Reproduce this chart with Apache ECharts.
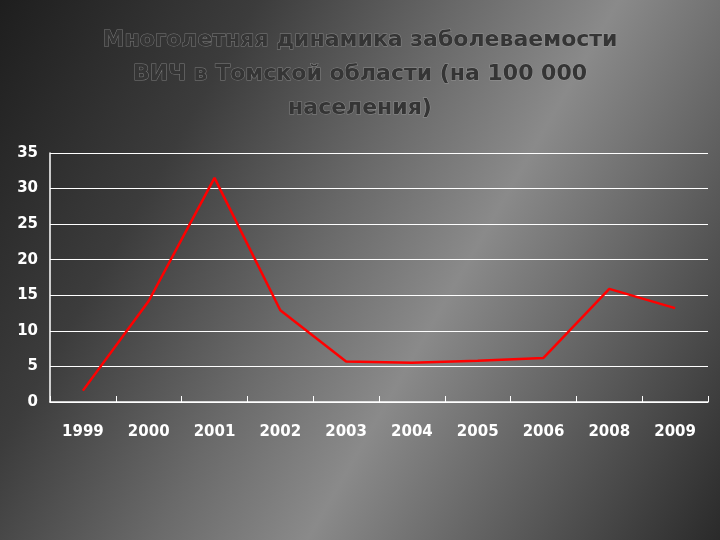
<!DOCTYPE html>
<html><head><meta charset="utf-8">
<script src="https://cdn.jsdelivr.net/npm/echarts@6/dist/echarts.min.js"></script>
<style>
html,body{margin:0;padding:0;}
body{width:720px;height:540px;background:linear-gradient(120deg,#1e1e1e 0%,#3c3c3c 25%,#6a6a6a 45%,#8a8a8a 60%,#5a5a5a 80%,#2a2a2a 100%);}
#chart{width:720px;height:540px;}
</style></head>
<body><div id="chart"></div>
<script>
var years = ['1999','2000','2001','2002','2003','2004','2005','2006','2008','2009'];
var incidence = [1.6, 14.2, 31.5, 12.9, 5.7, 5.5, 5.8, 6.2, 15.9, 13.2];

var chart = echarts.init(document.getElementById('chart'));
chart.setOption({
  title: {
    text: 'Многолетняя динамика заболеваемости\nВИЧ в Томской области (на 100 000\nнаселения)',
    left: 355, top: 18, textAlign: 'center',
    textStyle: {
      fontFamily: 'DejaVu Sans', fontSize: 22, fontWeight: 'bold', lineHeight: 34,
      color: '#353535', textBorderColor: 'rgba(170,170,170,0.6)', textBorderWidth: 1
    }
  },
  grid: {left: 50, right: 12, top: 153, bottom: 138},
  xAxis: {
    type: 'category', data: years, boundaryGap: true,
    axisLine: {lineStyle: {color: '#ffffff', width: 1.5}},
    axisTick: {show: true, inside: true, length: 6, lineStyle: {color: '#ffffff'}},
    axisLabel: {color: '#ffffff', fontFamily: 'DejaVu Sans', fontSize: 15, fontWeight: 'bold', margin: 23}
  },
  yAxis: {
    type: 'value', min: 0, max: 35, interval: 5,
    axisLine: {show: true, lineStyle: {color: '#ffffff', width: 1.5}},
    axisTick: {show: true, inside: true, lineStyle: {color: '#ffffff'}},
    splitLine: {lineStyle: {color: '#ffffff', width: 1}},
    axisLabel: {color: '#ffffff', fontFamily: 'DejaVu Sans', fontSize: 15, fontWeight: 'bold', margin: 12}
  },
  series: [{
    type: 'line', data: incidence, symbol: 'none',
    lineStyle: {color: '#ff0000', width: 2.5}
  }]
});
</script></body></html>
